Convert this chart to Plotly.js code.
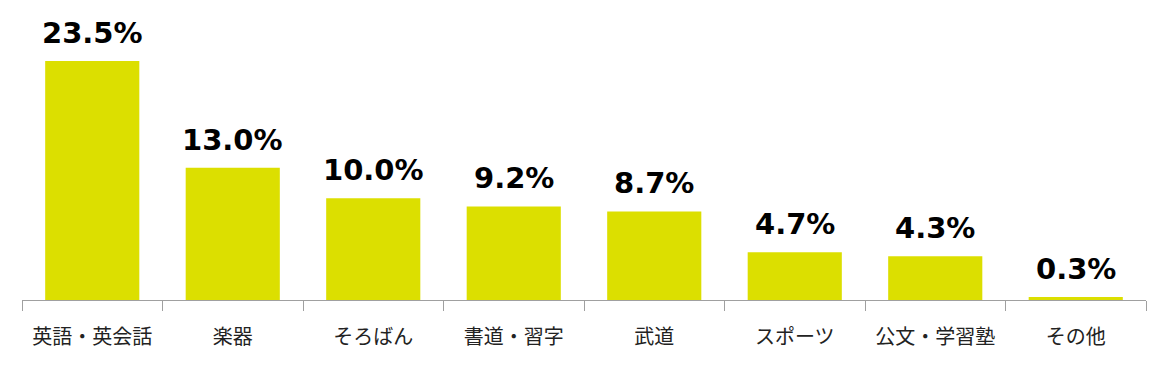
<!DOCTYPE html>
<html><head><meta charset="utf-8">
<script src="https://cdn.plot.ly/plotly-3.0.1.min.js"></script>
<style>html,body{margin:0;padding:0;background:#fff}</style>
</head><body>
<div id="chart" style="width:1162px;height:366px"></div>
<script>
const categories = ["英語・英会話","楽器","そろばん","書道・習字","武道","スポーツ","公文・学習塾","その他"];
const values = [23.5, 13.0, 10.0, 9.2, 8.7, 4.7, 4.3, 0.3];
const valueLabels = values.map(v => v.toFixed(1) + "%");

const trace = {
  type: "bar",
  x: categories,
  y: values,
  marker: {color: "#DCDF00"},
  width: 0.67,
  hoverinfo: "none"
};
const annotations = categories.map((c, i) => ({
  x: c, y: values[i], xref: "x", yref: "y",
  text: "<b>" + valueLabels[i] + "</b>",
  showarrow: false, yanchor: "bottom", yshift: 9,
  font: {family: "DejaVu Sans, Verdana, sans-serif", size: 29, color: "#000"}
}));
const layout = {
  width: 1162, height: 366,
  margin: {l: 22, r: 16, t: 10, b: 66},
  paper_bgcolor: "#fff", plot_bgcolor: "#fff",
  showlegend: false,
  bargap: 0.33,
  xaxis: {
    type: "category",
    showline: true, linecolor: "#A0A0A0", linewidth: 1,
    ticks: "outside", tickson: "boundaries", ticklen: 10, tickcolor: "#A0A0A0", tickwidth: 1,
    ticklabelstandoff: 19,
    tickfont: {family: "Noto Sans CJK JP, sans-serif", size: 20, color: "#222"},
    showgrid: false, zeroline: false, fixedrange: true
  },
  yaxis: {
    range: [0, 28.5], visible: false, showgrid: false, zeroline: false, fixedrange: true
  },
  annotations: annotations
};
Plotly.newPlot("chart", [trace], layout, {displayModeBar: false, staticPlot: true});
</script>
</body></html>
